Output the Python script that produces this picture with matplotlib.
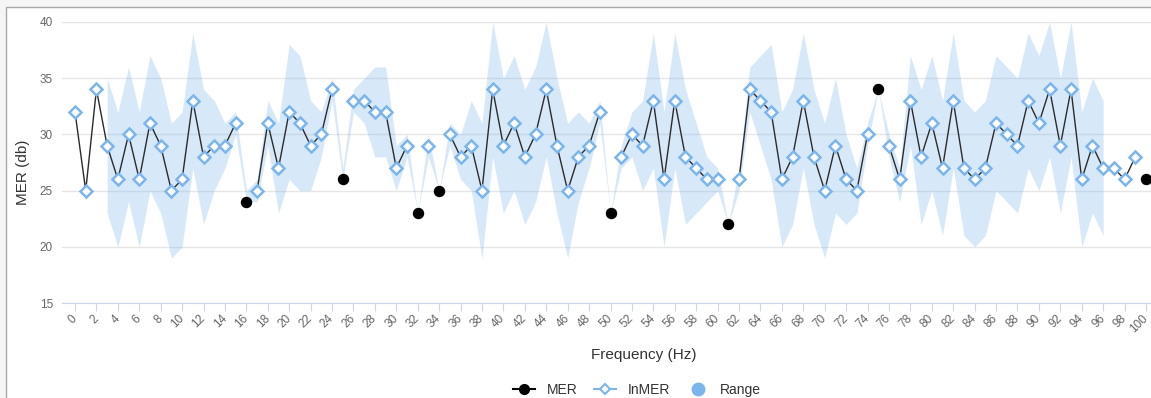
import numpy as np
import matplotlib
matplotlib.use("Agg")
import matplotlib.pyplot as plt
from matplotlib.lines import Line2D
from matplotlib.patches import Rectangle

plt.rcParams['font.family'] = ['Liberation Sans', 'DejaVu Sans']

freq = list(range(101))

inmer = [32, 25, 34, 29, 26, 30, 26, 31, 29, 25,
         26, 33, 28, 29, 29, 31, None, 25, 31, 27,
         32, 31, 29, 30, 34, None, 33, 33, 32, 32,
         27, 29, None, 29, None, 30, 28, 29, 25, 34,
         29, 31, 28, 30, 34, 29, 25, 28, 29, 32,
         None, 28, 30, 29, 33, 26, 33, 28, 27, 26,
         26, None, 26, 34, 33, 32, 26, 28, 33, 28,
         25, 29, 26, 25, 30, None, 29, 26, 33, 28,
         31, 27, 33, 27, 26, 27, 31, 30, 29, 33,
         31, 34, 29, 34, 26, 29, 27, 27, 26, 28,
         None]

mer_x = [16, 25, 32, 34, 50, 61, 75, 100]
mer_y = [24, 26, 23, 25, 23, 22, 34, 26]

# range: low / high per frequency (None = no range)
range_low = [None, None, None, 23, 20, 24, 20, 25, 23, 19,
             20, 27, 22, 25, 27, 30, 24, 24, 29, 23,
             26, 25, 25, 28, 33, 26, 32, 31, 28, 28,
             25, 28, 23, 28, 25, 29, 26, 25, 19, 28,
             23, 25, 22, 24, 28, 23, 19, 24, 27, 31,
             23, 27, 28, 25, 27, 20, 27, 22, 23, 24,
             25, 22, 25, 32, 29, 26, 20, 22, 27, 22,
             19, 23, 22, 23, 29, 34, 28, 24, 29, 22,
             25, 21, 27, 21, 20, 21, 25, 24, 23, 27,
             25, 28, 23, 28, 20, 23, 21, None, None, None,
             None]
range_high = [None, None, None, 35, 32, 36, 32, 37, 35, 31,
              32, 39, 34, 33, 31, 32, 25, 26, 33, 31,
              38, 37, 33, 32, 35, 27, 34, 35, 36, 36,
              29, 30, 23, 30, 25, 31, 30, 33, 31, 40,
              35, 37, 34, 36, 40, 35, 31, 32, 31, 33,
              23, 29, 32, 33, 39, 32, 39, 34, 31, 28,
              27, 22, 27, 36, 37, 38, 32, 34, 39, 34,
              31, 35, 30, 27, 31, 34, 30, 27, 37, 34,
              37, 33, 39, 33, 32, 33, 37, 36, 35, 39,
              37, 40, 35, 40, 32, 35, 33, None, None, None,
              None]

tick_pos = list(range(0, 101, 2))
tick_labels = [str(t) for t in tick_pos]
y_ticks = [15, 20, 25, 30, 35, 40]

blue = '#7cb5ec'

def arr(v):
    return np.array([np.nan if a is None else a for a in v], dtype=float)

fig = plt.figure(figsize=(11.51, 3.98), dpi=100, facecolor='#f5f5f5')
W, H = 1151, 398
fig.patches.append(Rectangle((6 / W, -0.1), 1.2, 1 - 7 / H + 0.1,
                             transform=fig.transFigure, facecolor='white',
                             edgecolor='#a8a8a8', lw=1, zorder=-1))

ax = fig.add_axes([62 / W, 1 - 303 / H, (W - 62) / W, 281 / H])
ax.set_facecolor('none')
ax.set_zorder(2)

ax.fill_between(freq, arr(range_low), arr(range_high), color=blue,
                alpha=0.3, lw=0, zorder=2)
ax.plot(freq, arr(inmer), color='#2b2b2b', lw=1, marker='D', ms=5.8,
        mfc='white', mec=blue, mew=1.8, zorder=3)
ax.scatter(mer_x, mer_y, s=52, color='black', zorder=4, clip_on=False)

ax.set_xlim(-13 / 10.71, (W - 75) / 10.71)
ax.set_ylim(15, 40)
ax.set_yticks(y_ticks)
ax.set_xticks(tick_pos)
ax.set_xticklabels(tick_labels, rotation=45, ha='right', va='center',
                   rotation_mode='anchor')
ax.grid(axis='y', color='#e6e6e6', lw=1, zorder=1)
ax.set_axisbelow(True)
for s in ['left', 'top', 'right']:
    ax.spines[s].set_visible(False)
ax.spines['bottom'].set_color('#ccd6eb')
ax.tick_params(axis='y', length=0, pad=6.5, labelsize=8.5, labelcolor='#666666')
ax.tick_params(axis='x', length=6, color='#ccd6eb', pad=4, labelsize=8.5,
               labelcolor='#666666')

fig.text(23 / W, 1 - 172 / H, 'MER (db)', rotation=90, ha='center',
         va='center', fontsize=11, color='#333333')
fig.text(644 / W, 1 - 355 / H, 'Frequency (Hz)', ha='center', va='center',
         fontsize=11, color='#333333')

handles = [
    Line2D([], [], color='black', lw=1.5, marker='o', ms=7),
    Line2D([], [], color=blue, lw=1.5, marker='D', ms=5, mfc='white',
           mec=blue, mew=1.5),
    Line2D([], [], ls='none', marker='o', ms=9, color=blue),
]
fig.legend(handles, ['MER', 'InMER', 'Range'], loc='center',
           bbox_to_anchor=(637 / W, 1 - 390 / H), ncol=3, frameon=False,
           fontsize=10, handlelength=1.6, columnspacing=1.2, handletextpad=0.8,
           labelcolor='#333333')

fig.savefig('out.png', dpi=100, facecolor=fig.get_facecolor())
